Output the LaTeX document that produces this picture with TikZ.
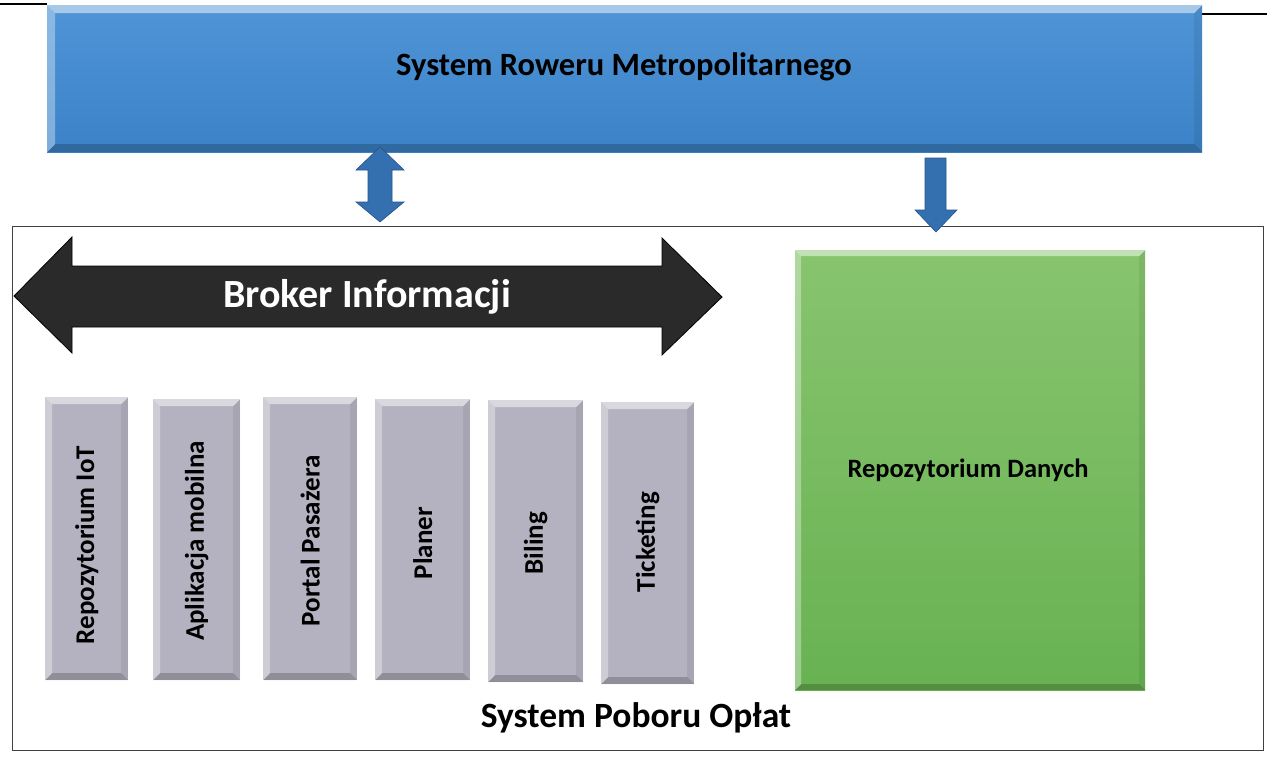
\documentclass[tikz,border=0pt]{standalone}
\usepackage{fontspec}
\setmainfont{Carlito}
\usetikzlibrary{calc}
\definecolor{barblueT}{RGB}{78,148,214}
\definecolor{barblueB}{RGB}{60,130,200}
\definecolor{arrblue}{RGB}{52,112,176}
\definecolor{arrblueD}{RGB}{38,84,140}
\definecolor{gboxc}{RGB}{180,178,192}
\definecolor{greenT}{RGB}{136,196,110}
\definecolor{greenB}{RGB}{104,178,82}
\definecolor{brokerc}{RGB}{42,42,42}
\tikzset{
  bevel/.style={path picture={
    \path (path picture bounding box.north west) coordinate (bnw)
          (path picture bounding box.south east) coordinate (bse);
    \fill[white,opacity=.5] (bnw) -- (bnw -| bse) -- ($(bnw -| bse)+(-#1,-#1)$) -- ($(bnw)+(#1,-#1)$) -- cycle;
    \fill[white,opacity=.35] (bnw) -- ($(bnw)+(#1,-#1)$) -- ($(bnw |- bse)+(#1,#1)$) -- (bnw |- bse) -- cycle;
    \fill[black,opacity=.07] (bnw -| bse) -- (bse) -- ($(bse)+(-#1,#1)$) -- ($(bnw -| bse)+(-#1,-#1)$) -- cycle;
    \fill[black,opacity=.2] (bnw |- bse) -- (bse) -- ($(bse)+(-#1,#1)$) -- ($(bnw |- bse)+(#1,#1)$) -- cycle;
  }},
  graybox/.style={rectangle, anchor=north west, inner sep=0pt, draw=none,
    fill=gboxc, bevel=7pt},
  vlabel/.style={font=\bfseries\fontsize{27}{30}\selectfont, rotate=90, text=black},
  blockarrow/.style={fill=arrblue, draw=arrblueD, line width=0.6pt},
}
\begin{document}
\begin{tikzpicture}[x=1pt,y=-1pt]
\useasboundingbox (0,0) rectangle (1267,760);
\fill[white] (0,0) rectangle (1267,760);

% short top lines
\draw[black, line width=1.5pt] (0,4) -- (47,4);
\draw[black, line width=1.5pt] (1202,14) -- (1267,14);

% top blue bar
\node[rectangle, anchor=north west, inner sep=0pt, minimum width=1155pt, minimum height=147pt,
      top color=barblueT, bottom color=barblueB, bevel=8pt] (srm) at (47,5) {};
\node[font=\bfseries\fontsize{32.5}{36}\selectfont] (srmtext) at (624,67) {System Roweru Metropolitarnego};

% outer frame
\node[rectangle, anchor=north west, inner sep=0pt, minimum width=1251pt, minimum height=524pt,
      draw=black!75, line width=1.2pt] (spo) at (12,226) {};

% vertical double arrow
\coordinate (da1) at (380,147);
\coordinate (da2) at (380,222);
\fill[blockarrow] (da1) -- (404,170) -- (392,170) -- (392,202) -- (404,202) -- (da2)
   -- (356,202) -- (368,202) -- (368,170) -- (356,170) -- cycle;

% down arrow
\coordinate (dn1) at (936,158);
\coordinate (dn2) at (936,232);
\fill[blockarrow] (925,158) -- (946,158) -- (946,210) -- (957,210) -- (dn2) -- (915,210) -- (925,210) -- cycle;

% broker arrow
\fill[brokerc, draw=black, line width=0.8pt] (14,296) -- (72,237) -- (72,266) -- (662,266) -- (662,238)
   -- (722,297) -- (662,355) -- (662,327) -- (72,327) -- (72,353) -- cycle;
\node[font=\bfseries\fontsize{40}{44}\selectfont, text=white] (broker) at (367,297) {Broker Informacji};

% gray boxes
\node[graybox, minimum width=83pt, minimum height=283pt] (g1) at (45,397) {};
\node[graybox, minimum width=87pt, minimum height=281pt] (g2) at (153,399) {};
\node[graybox, minimum width=94pt, minimum height=283pt] (g3) at (263,397) {};
\node[graybox, minimum width=95pt, minimum height=281pt] (g4) at (375,399) {};
\node[graybox, minimum width=95pt, minimum height=282pt] (g5) at (488,400) {};
\node[graybox, minimum width=93pt, minimum height=282pt] (g6) at (601,402) {};

\node[vlabel] (t1) at (g1.center |- 0,545) {Repozytorium IoT};
\node[vlabel] (t2) at (g2.center |- 0,541) {Aplikacja mobilna};
\node[vlabel] (t3) at (g3.center |- 0,541) {Portal Pasażera};
\node[vlabel] (t4) at (g4.center |- 0,543) {Planer};
\node[vlabel] (t5) at (g5.center |- 0,543) {Biling};
\node[vlabel] (t6) at (g6.center |- 0,542) {Ticketing};

% green box
\node[rectangle, anchor=north west, inner sep=0pt, minimum width=350pt, minimum height=440pt,
      top color=greenT, bottom color=greenB, bevel=6pt] (rd) at (795,250) {};
\node[font=\bfseries\fontsize{26.5}{30}\selectfont] (rdtext) at (968,470) {Repozytorium Danych};

% bottom label
\node[font=\bfseries\fontsize{35.5}{40}\selectfont] (spotext) at (636,718) {System Poboru Opłat};
\end{tikzpicture}
\end{document}
